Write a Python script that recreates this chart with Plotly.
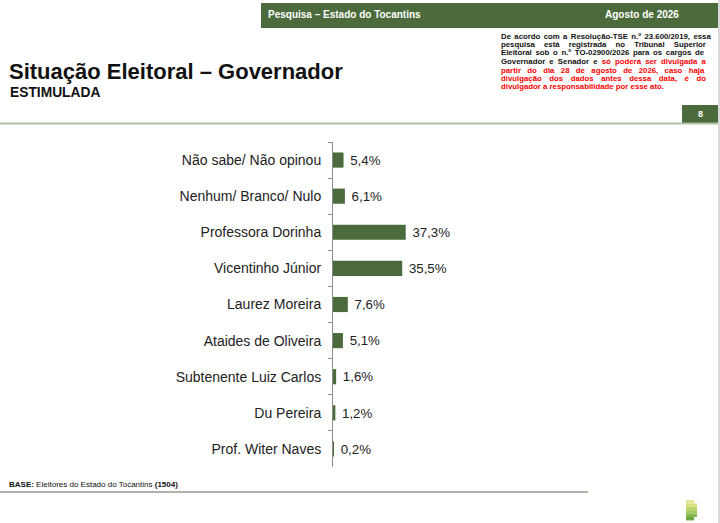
import plotly.graph_objects as go

# dados do gráfico (de cima para baixo)
candidatos = ['Não sabe/ Não opinou', 'Nenhum/ Branco/ Nulo', 'Professora Dorinha',
              'Vicentinho Júnior', 'Laurez Moreira', 'Ataides de Oliveira',
              'Subtenente Luiz Carlos', 'Du Pereira', 'Prof. Witer Naves']
percentuais = [5.4, 6.1, 37.3, 35.5, 7.6, 5.1, 1.6, 1.2, 0.2]

titulo = 'Situação Eleitoral – Governador'
subtitulo = 'ESTIMULADA'
cabecalho_esq = 'Pesquisa – Estado do Tocantins'
cabecalho_dir = 'Agosto de 2026'
pagina = '8'
base_txt = '<b>BASE:</b> Eleitores do Estado do Tocantins <b>(1504)</b>'
# aviso legal: (trecho preto, trecho vermelho) por linha
aviso = [('De acordo com a Resolução-TSE n.º 23.600/2019, essa', ''),
         ('pesquisa está registrada no Tribunal Superior', ''),
         ('Eleitoral sob o n.º TO-02900/2026 para os cargos de', ''),
         ('Governador e Senador e ', 'só poderá ser divulgada a'),
         ('', 'partir do dia 28 de agosto de 2026, caso haja'),
         ('', 'divulgação dos dados antes dessa data, é do'),
         ('', 'divulgador a responsabilidade por esse ato.')]
# espaçamento extra entre palavras para justificar (px)
espaco_extra = [1.2, 7.0, 1.5, 2.0, 4.2, 5.4, 0]

W, H = 720, 523
VERDE = '#4b6b3c'
FONTE = 'Liberation Sans, Arial, sans-serif'


def px(x):
    return x / W


def py(y):
    return 1 - y / H


rotulos = ['\u00a0' + f'{v:.1f}%'.replace('.', ',') for v in percentuais]

fig = go.Figure(go.Bar(
    x=percentuais,
    y=candidatos,
    orientation='h',
    width=0.42,
    marker=dict(color=VERDE, line=dict(width=0)),
    text=rotulos,
    textposition='outside',
    textfont=dict(size=14, color='#222222', family=FONTE),
    cliponaxis=False,
    hoverinfo='skip',
))

fig.update_layout(
    width=W, height=H,
    margin=dict(l=0, r=0, t=0, b=0),
    paper_bgcolor='white',
    plot_bgcolor='white',
    showlegend=False,
    font=dict(family=FONTE, color='#222222'),
    xaxis=dict(domain=[px(333), px(600)], range=[0, (600 - 333) / 1.95],
               visible=False, fixedrange=True),
    yaxis=dict(domain=[py(467), py(142)], autorange='reversed',
               type='category', showline=True, linecolor='#8c8c8c', linewidth=1,
               ticks='outside', tickson='boundaries', ticklen=4, tickcolor='#8c8c8c',
               ticklabelstandoff=8,
               tickfont=dict(size=14, color='#222222', family=FONTE),
               showgrid=False, zeroline=False, fixedrange=True),
)

shapes = []
# faixa verde do cabeçalho
shapes.append(dict(type='rect', xref='paper', yref='paper',
                   x0=px(261), x1=px(718), y0=py(28), y1=py(3),
                   fillcolor=VERDE, line=dict(width=0)))
# caixa do número da página
shapes.append(dict(type='rect', xref='paper', yref='paper',
                   x0=px(682), x1=px(718), y0=py(123), y1=py(105),
                   fillcolor=VERDE, line=dict(width=0)))
# linha abaixo do título
shapes.append(dict(type='line', xref='paper', yref='paper',
                   x0=0, x1=px(718), y0=py(123.5), y1=py(123.5),
                   line=dict(color='#b3bfa5', width=2)))
# linha da base
shapes.append(dict(type='line', xref='paper', yref='paper',
                   x0=0, x1=px(588), y0=py(492), y1=py(492),
                   line=dict(color='#5a6a50', width=1)))
# logotipo (faixas)
cores_logo = ['#e6e69a', '#d5e07e', '#bcd66a', '#a2c95a', '#86ba4d', '#6aa842']
for i, c in enumerate(cores_logo):
    y0 = 500 + i * 3.4
    shapes.append(dict(type='rect', xref='paper', yref='paper',
                       x0=px(686), x1=px(697 if 0 < i < 5 else 694),
                       y0=py(y0 + 3.4), y1=py(y0),
                       fillcolor=c, line=dict(width=0)))
# borda direita da página
shapes.append(dict(type='line', xref='paper', yref='paper',
                   x0=px(719), x1=px(719), y0=0, y1=1,
                   line=dict(color='#d9d9d9', width=2)))
fig.update_layout(shapes=shapes)

ann = []
ann.append(dict(text=f'<b>{titulo}</b>', x=px(7), y=py(71), xanchor='left', yanchor='middle',
                font=dict(size=22, color='#111111')))
ann.append(dict(text=f'<b>{subtitulo}</b>', x=px(8), y=py(93), xanchor='left', yanchor='middle',
                font=dict(size=13.8, color='#111111')))
ann.append(dict(text=f'<b>{cabecalho_esq}</b>', x=px(266), y=py(15), xanchor='left', yanchor='middle',
                font=dict(size=10, color='white')))
ann.append(dict(text=f'<b>{cabecalho_dir}</b>', x=px(603), y=py(15), xanchor='left', yanchor='middle',
                font=dict(size=10, color='white')))
ann.append(dict(text=f'<b>{pagina}</b>', x=px(700), y=py(114), xanchor='center', yanchor='middle',
                font=dict(size=9, color='white')))
ann.append(dict(text=base_txt, x=px(7), y=py(484), xanchor='left', yanchor='middle',
                font=dict(size=8, color='#111111')))

# aviso legal (preto e vermelho), justificado com word-spacing
for i, ((preto, vermelho), ws) in enumerate(zip(aviso, espaco_extra)):
    partes = ''
    if preto:
        partes += f"<span style='word-spacing:{ws}px'>{preto}</span>"
    if vermelho:
        partes += f"<span style='color:#ff0000;word-spacing:{ws}px'>{vermelho}</span>"
    ann.append(dict(text=f'<b>{partes}</b>', x=px(499), y=py(36 + i * 8.5), xanchor='left', yanchor='middle',
                    font=dict(size=7.8, color='#111111')))

for a in ann:
    a.update(xref='paper', yref='paper', showarrow=False, align='left')
fig.update_layout(annotations=ann)

# sem margem no body, para a figura ocupar a janela inteira
fig.write_html('out.html', config={'displayModeBar': False},
               post_script="document.body.style.margin='0';")
